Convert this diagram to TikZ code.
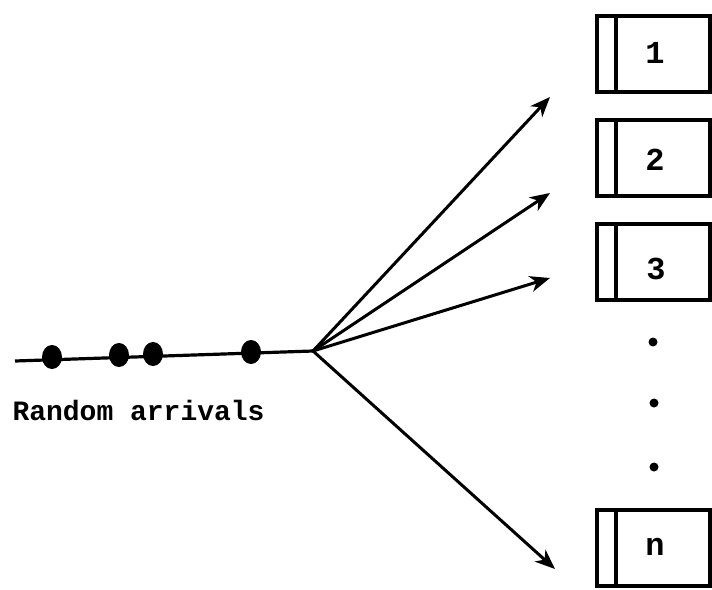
\documentclass[tikz,border=0pt]{standalone}
\usepackage{fontspec}
\setmonofont{Liberation Mono}
\usetikzlibrary{arrows.meta,shapes.geometric}
\begin{document}
\begin{tikzpicture}[x=1pt,y=-1pt,
  queuebox/.style={draw=black,line width=4pt,minimum width=113pt,minimum height=76pt,inner sep=0pt,anchor=north west},
  divider/.style={line width=3.6pt},
  flow/.style={line width=3pt,-{Stealth[length=20pt,width=16pt,inset=6pt]}},
  arrival/.style={fill=black,ellipse,minimum width=20pt,minimum height=24pt,inner sep=0pt},
  boxlabel/.style={font=\ttfamily\bfseries\fontsize{32}{32}\selectfont},
  gapdot/.style={circle,fill=black,minimum size=9pt,inner sep=0pt}]
\useasboundingbox (0,0) rectangle (712,589);

% servers
\node[queuebox] (q1) at (595,14) {};
\node[queuebox] (q2) at (595,118) {};
\node[queuebox] (q3) at (595,222) {};
\node[queuebox] (qn) at (595,508) {};
\foreach \q in {q1,q2,q3,qn}
  \draw[divider] ([xshift=21pt]\q.north west) -- ([xshift=21pt]\q.south west);

\node[boxlabel] (l1) at (655,53) {1};
\node[boxlabel] (l2) at (655,160) {2};
\node[boxlabel] (l3) at (656,269) {3};
\node[boxlabel] (ln) at (655,547) {n};

% ellipsis between server 3 and server n
\node[gapdot] (d1) at (653,342) {};
\node[gapdot] (d2) at (654,403) {};
\node[gapdot] (d3) at (654,467) {};

% arrival stream
\coordinate (start) at (15,361);
\coordinate (hub) at (313,351);
\draw[line width=3.2pt] (start) -- (hub);
\node[arrival] (c1) at (52,357) {};
\node[arrival] (c2) at (119,355) {};
\node[arrival] (c3) at (153,354) {};
\node[arrival] (c4) at (251,352) {};

\node[font=\ttfamily\bfseries\fontsize{28}{28}\selectfont,anchor=west] (lab) at (9,410) {Random arrivals};

% routing to servers
\coordinate (t1) at (550,97);
\coordinate (t2) at (550,193);
\coordinate (t3) at (550,278);
\coordinate (tn) at (555,569);
\foreach \t in {t1,t2,t3,tn}
  \draw[flow] (hub) -- (\t);
\end{tikzpicture}
\end{document}
